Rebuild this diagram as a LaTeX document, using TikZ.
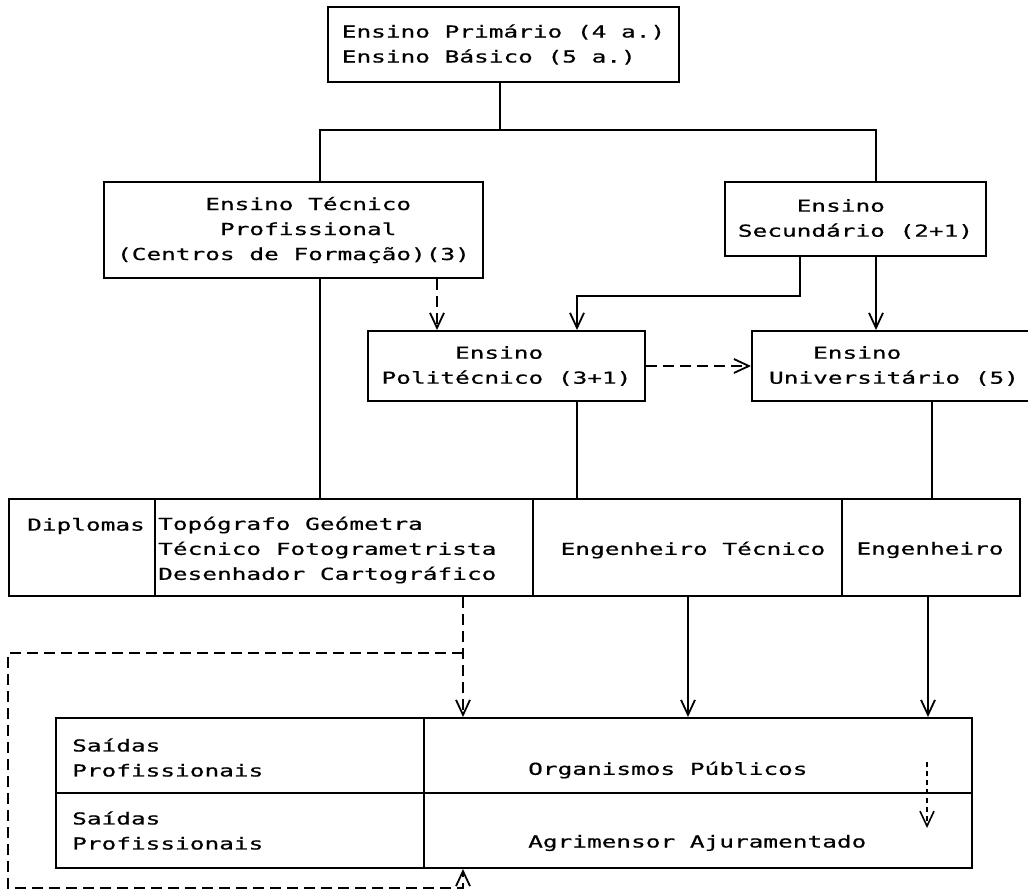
\documentclass[tikz,border=0pt]{standalone}
\usepackage{fontspec}
\newfontfamily\dotfont[FakeStretch=1.48,FakeBold=0.6]{DejaVu Sans Mono}
\usetikzlibrary{arrows.meta}

\begin{document}
\begin{tikzpicture}[x=1pt,y=-1pt,
  every node/.style={font=\dotfont\fontsize{16.5}{25}\selectfont},
  box/.style={draw, line width=2pt, inner sep=0pt, align=left},
  cell/.style={draw, line width=2pt, inner sep=0pt, anchor=north west},
  txt/.style={inner sep=0pt, align=left},
  link/.style={line width=1.8pt},
  dlink/.style={line width=1.8pt, dash pattern=on 11pt off 6pt},
  slink/.style={line width=1.6pt, dash pattern=on 5pt off 4pt},
  >={Straight Barb[length=15pt,width=14pt]}
]
\useasboundingbox (0,0) rectangle (1028,892);

% school levels
\node[box, minimum width=351pt, minimum height=75pt] (prim) at (503.5,44.5)
  {Ensino Primário (4 a.)\\Ensino Básico (5 a.)};
\node[box, minimum width=379pt, minimum height=96pt] (tec) at (293.5,230)
  {\phantom{xxxxxx}Ensino Técnico\\\phantom{xxxxxxx}Profissional\\(Centros de Formação)(3)};
\node[box, minimum width=261pt, minimum height=74pt] (sec) at (855.5,219)
  {\phantom{xxxx}Ensino\\Secundário (2+1)};
\node[box, minimum width=277pt, minimum height=70pt] (pol) at (506.5,366)
  {\phantom{xxxxx}Ensino\\Politécnico (3+1)};
\node[box, minimum width=284pt, minimum height=70pt] (uni) at (894,366)
  {\phantom{xxx}Ensino\\Universitário (5)};

% diplomas row
\node[cell, minimum width=146pt, minimum height=97pt] (dip)  at (8,498) {};
\node[cell, minimum width=378pt, minimum height=97pt] (topo) at (154,498) {};
\node[cell, minimum width=309pt, minimum height=97pt] (et)   at (532,498) {};
\node[cell, minimum width=178pt, minimum height=97pt] (eng)  at (841,498) {};
\node[txt, anchor=west] (tdip) at (27,526) {Diplomas};
\node[txt, anchor=west] (ttopo) at (158,550)
  {Topógrafo Geómetra\\Técnico Fotogrametrista\\Desenhador Cartográfico};
\node[txt] (tet) at (693,550) {Engenheiro Técnico};
\node[txt] (teng) at (930,550) {Engenheiro};

% professional outlets
\node[cell, minimum width=368pt, minimum height=75pt] (s1) at (55,717) {};
\node[cell, minimum width=548pt, minimum height=75pt] (o1) at (423,717) {};
\node[cell, minimum width=368pt, minimum height=75pt] (s2) at (55,792) {};
\node[cell, minimum width=548pt, minimum height=75pt] (o2) at (423,792) {};
\node[txt, anchor=west] (ts1) at (72,757.5) {Saídas\\Profissionais};
\node[txt, anchor=west] (ts2) at (72,830.5) {Saídas\\Profissionais};
\node[txt, anchor=west] (to1) at (528,770) {Organismos Públicos};
\node[txt, anchor=west] (to2) at (528,843) {Agrimensor Ajuramentado};

% guide positions for the connectors
\coordinate (xa) at (320,0);
\coordinate (xb) at (500,0);
\coordinate (xc) at (876,0);
\coordinate (xd) at (437,0);
\coordinate (xe) at (800,0);
\coordinate (xf) at (577,0);
\coordinate (xg) at (932,0);
\coordinate (xh) at (463,0);
\coordinate (xi) at (688,0);
\coordinate (xj) at (928,0);
\coordinate (xl) at (8,0);
\coordinate (ya) at (0,130);
\coordinate (yb) at (0,296);
\coordinate (yc) at (0,653);
\coordinate (yd) at (0,888);
\coordinate (sa) at (927,762);
\coordinate (sb) at (927,828);

% connectors
\draw[link] (prim.south -| xb) -- (xb |- ya);
\draw[link] (tec.north -| xa) -- (xa |- ya) -- (xc |- ya) -- (sec.north -| xc);
\draw[link] (tec.south -| xa) -- (topo.north -| xa);
\draw[dlink,->] (tec.south -| xd) -- (pol.north -| xd);
\draw[link,->] (sec.south -| xe) -- (xe |- yb) -| (pol.north -| xf);
\draw[link,->] (sec.south -| xc) -- (uni.north -| xc);
\draw[dlink,->] (pol.east) -- (pol.east -| uni.west);
\draw[link] (pol.south -| xf) -- (et.north -| xf);
\draw[link] (uni.south -| xg) -- (eng.north -| xg);

\draw[dlink,->] (topo.south -| xh) -- (o1.north -| xh);
\draw[dlink,->] (xh |- yc) -- (xl |- yc) -- (xl |- yd) -- (xh |- yd) -- (o2.south -| xh);
\draw[link,->] (et.south -| xi) -- (o1.north -| xi);
\draw[link,->] (eng.south -| xj) -- (o1.north -| xj);
\draw[slink,->] (sa) -- (sb);
\end{tikzpicture}
\end{document}
